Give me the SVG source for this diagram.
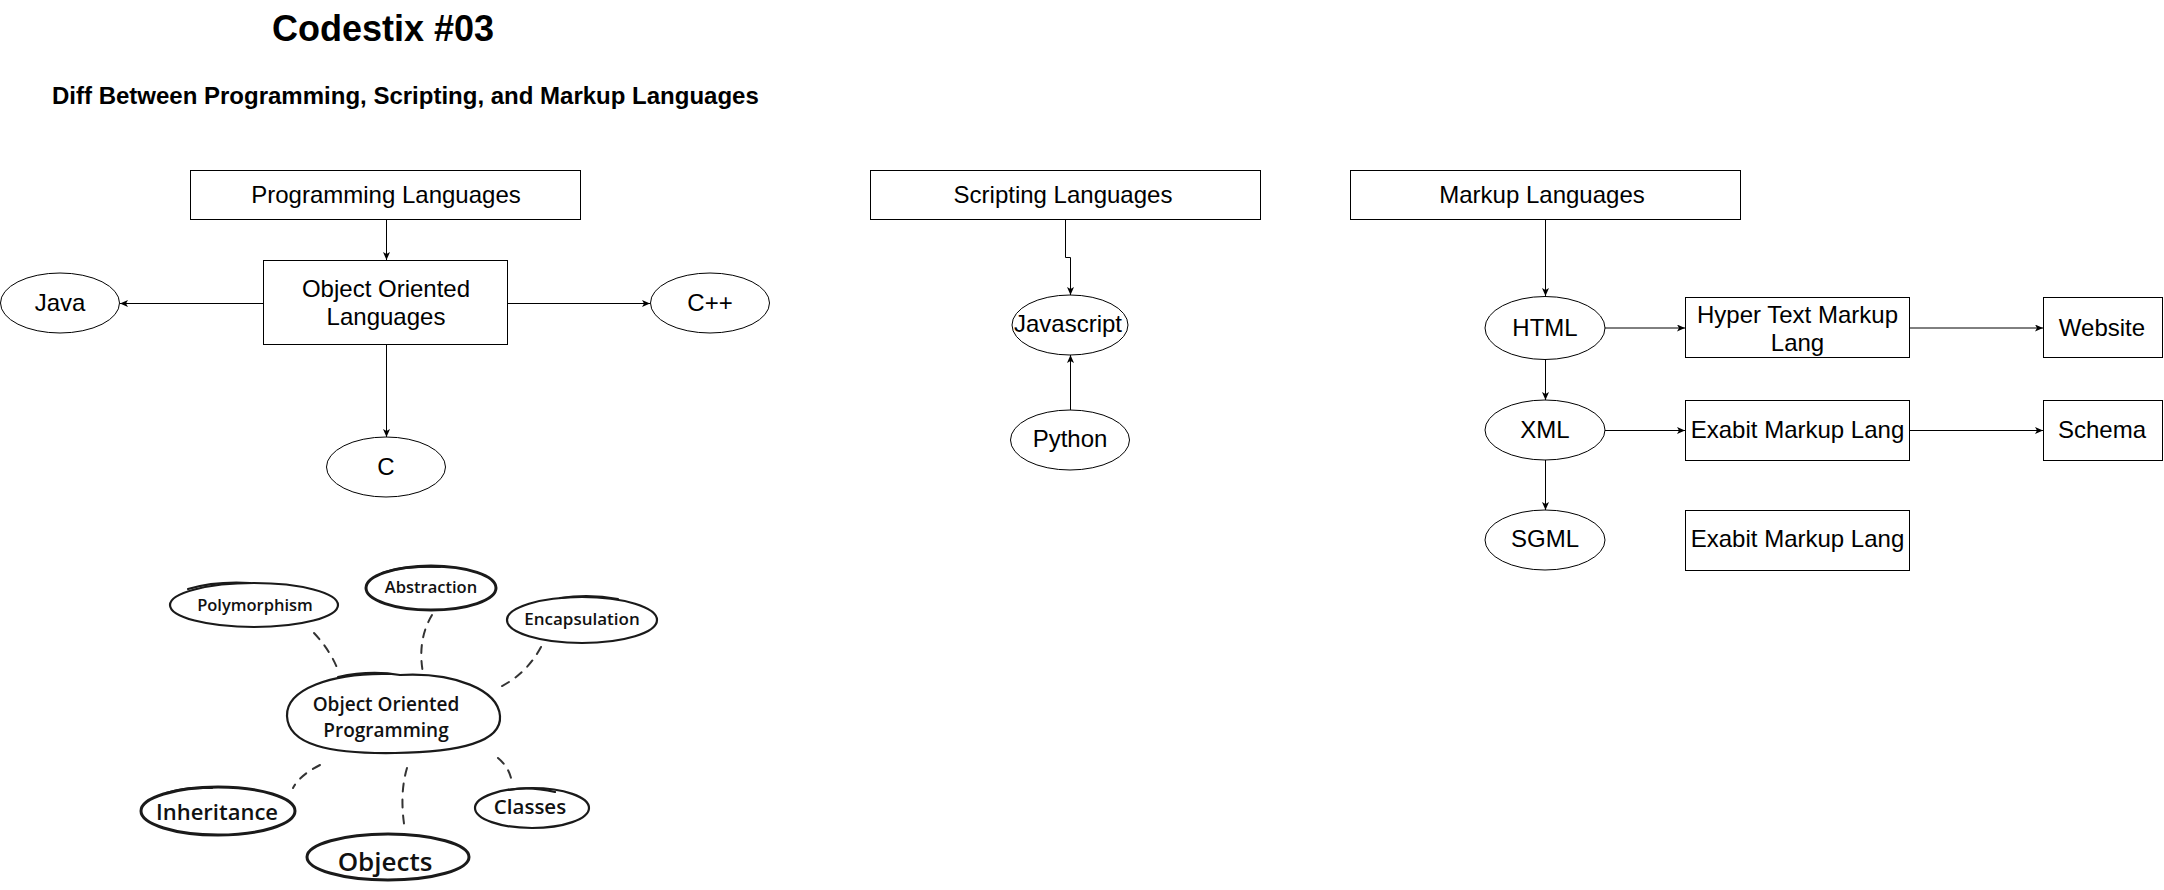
<svg xmlns="http://www.w3.org/2000/svg" width="2164" height="890" viewBox="0 0 2164 890">
<style>
.box{fill:#fff;stroke:#000;stroke-width:1}
.lbl{font-family:"Liberation Sans",Arial,sans-serif;font-size:24px;fill:#000;text-anchor:middle}
.ttl{font-family:"Liberation Sans",Arial,sans-serif;font-weight:bold;fill:#000}
.edge{fill:none;stroke:#000;stroke-width:1;marker-end:url(#arr)}
.cloud{fill:#fff;stroke:#1a1a1a;stroke-width:2.2;stroke-linecap:round}
.cloudB{fill:#fff;stroke:#1a1a1a;stroke-width:3;stroke-linecap:round}
.over{fill:none;stroke:#1a1a1a;stroke-width:2.2;stroke-linecap:round}
.hand{font-family:"Open Sans","DejaVu Sans",sans-serif;font-weight:600;fill:#111;text-anchor:middle}
.dash{fill:none;stroke:#333;stroke-width:2;stroke-dasharray:8 8;stroke-linecap:round}
</style>
<defs>
<marker id="arr" markerUnits="userSpaceOnUse" markerWidth="10" markerHeight="10" refX="8" refY="3.5" orient="auto">
<path d="M0,0 L8,3.5 L0,7 L2,3.5 Z" fill="#000"/>
</marker>
</defs>
<rect width="2164" height="890" fill="#fff"/>
<g id="titles">
<text class="ttl" x="383" y="41" font-size="36" text-anchor="middle">Codestix #03</text>
<text class="ttl" x="52" y="104" font-size="24">Diff Between Programming, Scripting, and Markup Languages</text>
</g>
<g id="connectors">
<path class="edge" d="M386.5,220 V260"/>
<path class="edge" d="M263,303.5 H120"/>
<path class="edge" d="M508,303.5 H650"/>
<path class="edge" d="M386.5,345 V437"/>
<path class="edge" d="M1065.5,220 V257.5 H1070.5 V295"/>
<path class="edge" d="M1070.5,410 V355"/>
<path class="edge" d="M1545.5,220 V296"/>
<path class="edge" d="M1545.5,359 V400"/>
<path class="edge" d="M1545.5,460 V510"/>
<path class="edge" d="M1605,328 H1685"/>
<path class="edge" d="M1910,328 H2043"/>
<path class="edge" d="M1605,430.5 H1685"/>
<path class="edge" d="M1910,430.5 H2043"/>
</g>
<g id="programming-languages"><rect class="box" x="190.5" y="170.5" width="390" height="49"/><text class="lbl" x="386" y="203">Programming Languages</text></g>
<g id="object-oriented-languages"><rect class="box" x="263.5" y="260.5" width="244" height="84"/><text class="lbl" x="386" y="297">Object Oriented</text><text class="lbl" x="386" y="325">Languages</text></g>
<g id="java"><ellipse class="box" cx="60" cy="303" rx="59.5" ry="30"/><text class="lbl" x="60" y="311">Java</text></g>
<g id="cpp"><ellipse class="box" cx="710" cy="303" rx="59.5" ry="30"/><text class="lbl" x="710" y="311">C++</text></g>
<g id="c"><ellipse class="box" cx="386" cy="467" rx="59.5" ry="30"/><text class="lbl" x="386" y="475">C</text></g>
<g id="scripting-languages"><rect class="box" x="870.5" y="170.5" width="390" height="49"/><text class="lbl" x="1063" y="203">Scripting Languages</text></g>
<g id="javascript"><ellipse class="box" cx="1070" cy="325" rx="58" ry="30"/><text class="lbl" x="1068" y="332">Javascript</text></g>
<g id="python"><ellipse class="box" cx="1070" cy="440" rx="59.5" ry="30"/><text class="lbl" x="1070" y="447">Python</text></g>
<g id="markup-languages"><rect class="box" x="1350.5" y="170.5" width="390" height="49"/><text class="lbl" x="1542" y="203">Markup Languages</text></g>
<g id="html"><ellipse class="box" cx="1545" cy="328" rx="60" ry="31.5"/><text class="lbl" x="1545" y="336">HTML</text></g>
<g id="xml"><ellipse class="box" cx="1545" cy="430" rx="60" ry="30"/><text class="lbl" x="1545" y="438">XML</text></g>
<g id="sgml"><ellipse class="box" cx="1545" cy="540" rx="60" ry="30"/><text class="lbl" x="1545" y="547">SGML</text></g>
<g id="hyper-text-markup-lang"><rect class="box" x="1685.5" y="297.5" width="224" height="60"/><text class="lbl" x="1797.5" y="323">Hyper Text Markup</text><text class="lbl" x="1797.5" y="351">Lang</text></g>
<g id="website"><rect class="box" x="2043.5" y="297.5" width="119" height="60"/><text class="lbl" x="2102" y="336">Website</text></g>
<g id="exabit-markup-lang-1"><rect class="box" x="1685.5" y="400.5" width="224" height="60"/><text class="lbl" x="1797.5" y="438">Exabit Markup Lang</text></g>
<g id="schema"><rect class="box" x="2043.5" y="400.5" width="119" height="60"/><text class="lbl" x="2102" y="438">Schema</text></g>
<g id="exabit-markup-lang-2"><rect class="box" x="1685.5" y="510.5" width="224" height="60"/><text class="lbl" x="1797.5" y="547">Exabit Markup Lang</text></g>
<g id="sketch-connectors">
<path class="dash" d="M314,633 Q330,650 338,670"/>
<path class="dash" d="M432,615 Q417,640 423,673"/>
<path class="dash" d="M541,647 Q526,675 498,688"/>
<path class="dash" d="M320,765 Q300,775 293,788"/>
<path class="dash" d="M407,768 Q399,795 405,830"/>
<path class="dash" d="M498,758 Q510,768 512,783"/>
</g>
<g id="oop">
<path class="cloud" d="M400,675 C455,672 498,690 500,716 C502,742 460,752 395,753 C330,754 288,745 287,716 C286,690 330,672 392,674"/>
<path class="over" d="M338,677 Q370,670 400,675"/>
<text class="hand" x="386" y="711" font-size="19">Object Oriented</text>
<text class="hand" x="386" y="737" font-size="19">Programming</text>
</g>
<g id="polymorphism">
<ellipse class="cloud" cx="254" cy="605" rx="84" ry="22"/>
<path class="over" d="M188,589 Q215,581 250,583"/>
<text class="hand" x="255" y="611" font-size="16.5">Polymorphism</text>
</g>
<g id="abstraction">
<ellipse class="cloudB" cx="431" cy="588" rx="65" ry="22"/>
<path class="over" d="M382,573 Q405,565 440,567"/>
<text class="hand" x="431" y="593" font-size="16.5">Abstraction</text>
</g>
<g id="encapsulation">
<ellipse class="cloud" cx="582" cy="620" rx="75" ry="23"/>
<path class="over" d="M560,598 Q590,594 618,599"/>
<text class="hand" x="582" y="625" font-size="17">Encapsulation</text>
</g>
<g id="inheritance">
<ellipse class="cloudB" cx="218" cy="811" rx="77" ry="24"/>
<path class="over" d="M166,793 Q185,787 212,788"/>
<text class="hand" x="217" y="820" font-size="22">Inheritance</text>
</g>
<g id="objects">
<ellipse class="cloudB" cx="388" cy="857" rx="81" ry="23"/>
<text class="hand" x="385" y="871" font-size="26">Objects</text>
</g>
<g id="classes">
<ellipse class="cloud" cx="532" cy="808" rx="57" ry="20"/>
<path class="over" d="M508,790 Q530,786 555,792"/>
<text class="hand" x="530" y="814" font-size="20.5">Classes</text>
</g>
</svg>
